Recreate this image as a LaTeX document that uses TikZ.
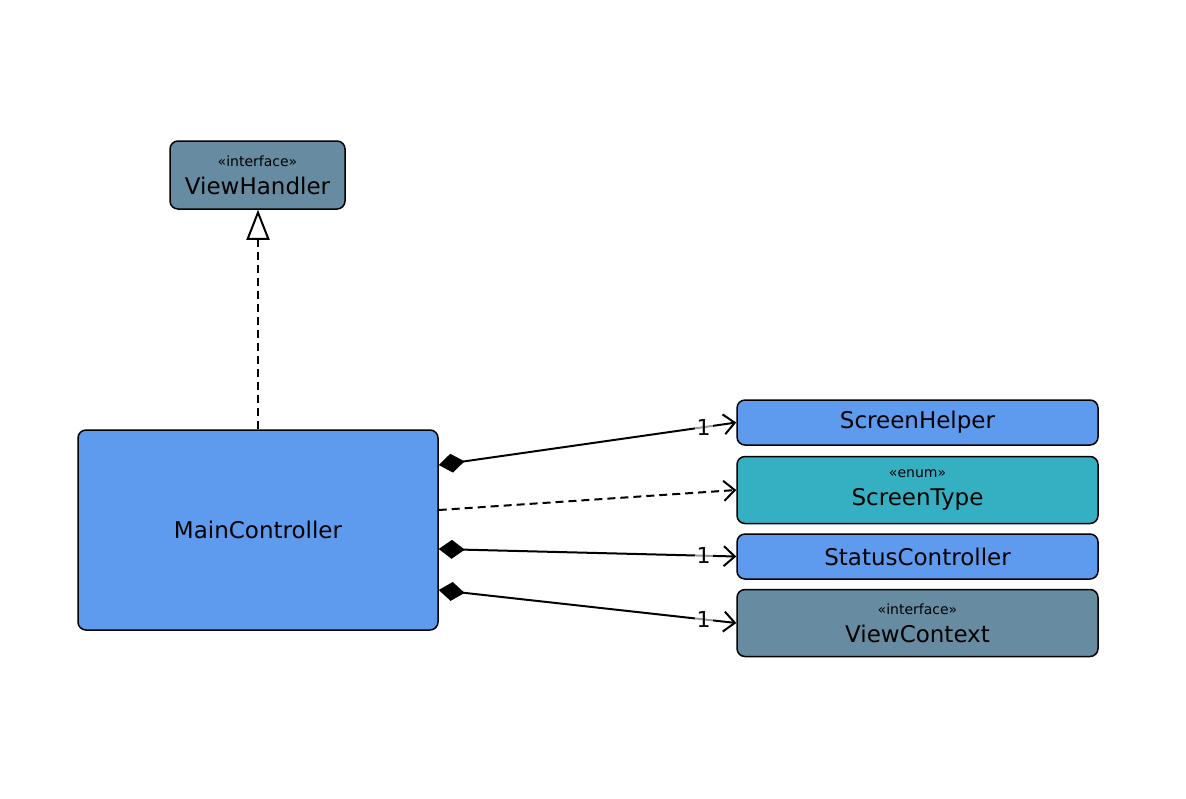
\documentclass[tikz,border=0pt]{standalone}
\usepackage{fontspec}
\setmainfont{DejaVu Sans}
\usetikzlibrary{positioning, arrows.meta}

\definecolor{classblue}{RGB}{94,154,238}
\definecolor{ifacegrey}{RGB}{103,139,161}
\definecolor{enumteal}{RGB}{53,176,194}

\newcommand{\stereo}[1]{{\fontsize{7}{8}\selectfont «#1»}}

\begin{document}
\begin{tikzpicture}[line width=1pt, node distance=4.5pt]
\tikzstyle{class}=[draw=black, line width=0.75pt, rounded corners=4pt, fill=classblue, align=center, inner sep=0pt, minimum width=180.5pt, font=\fontsize{11.5}{14}\selectfont]
\tikzstyle{iface}=[class, fill=ifacegrey]
\tikzstyle{enum}=[class, fill=enumteal]
\tikzstyle{comp}=[{Diamond[length=13pt,width=9.5pt]}-{Straight Barb[length=5.5pt,width=10pt]}]
\tikzstyle{dep}=[dash pattern=on 4pt off 2.5pt, -{Straight Barb[length=5.5pt,width=10pt]}]
\tikzstyle{real}=[dash pattern=on 4pt off 2.5pt, -{Triangle[open,length=15pt,width=11.5pt,fill=white]}]
\tikzstyle{mult}=[pos=0.89, fill=white, fill opacity=0.6, text opacity=1, inner sep=1pt, font=\fontsize{11}{13}\selectfont]

\useasboundingbox (0,0) rectangle (593pt,-399pt);

\node[iface, minimum width=87.5pt, minimum height=34pt] (VH) at (128.75pt,-87.5pt) {\stereo{interface}\\ViewHandler};
\node[class, minimum width=180pt, minimum height=100pt] (MC) at (129pt,-265pt) {MainController};

\node[class, minimum height=22.5pt] (SH) at (458.75pt,-211.25pt) {ScreenHelper};
\node[enum, minimum height=33.5pt, below=5pt of SH] (ST) {\stereo{enum}\\ScreenType};
\node[class, minimum height=22.5pt, below=of ST] (SC) {StatusController};
\node[iface, minimum height=33.5pt, below=of SC] (VC) {\stereo{interface}\\ViewContext};

\coordinate (mc1) at ([yshift=32.5pt]MC.east);
\coordinate (mc2) at ([yshift=10pt]MC.east);
\coordinate (mc3) at ([yshift=-9.5pt]MC.east);
\coordinate (mc4) at ([yshift=-30pt]MC.east);

\path
(MC.north) edge[real] (MC.north |- VH.south)
(mc1) edge[comp] node[mult]{1} (SH.west)
(mc2) edge[dep] (ST.west)
(mc3) edge[comp] node[mult]{1} (SC.west)
(mc4) edge[comp] node[mult]{1} (VC.west);

\end{tikzpicture}
\end{document}
